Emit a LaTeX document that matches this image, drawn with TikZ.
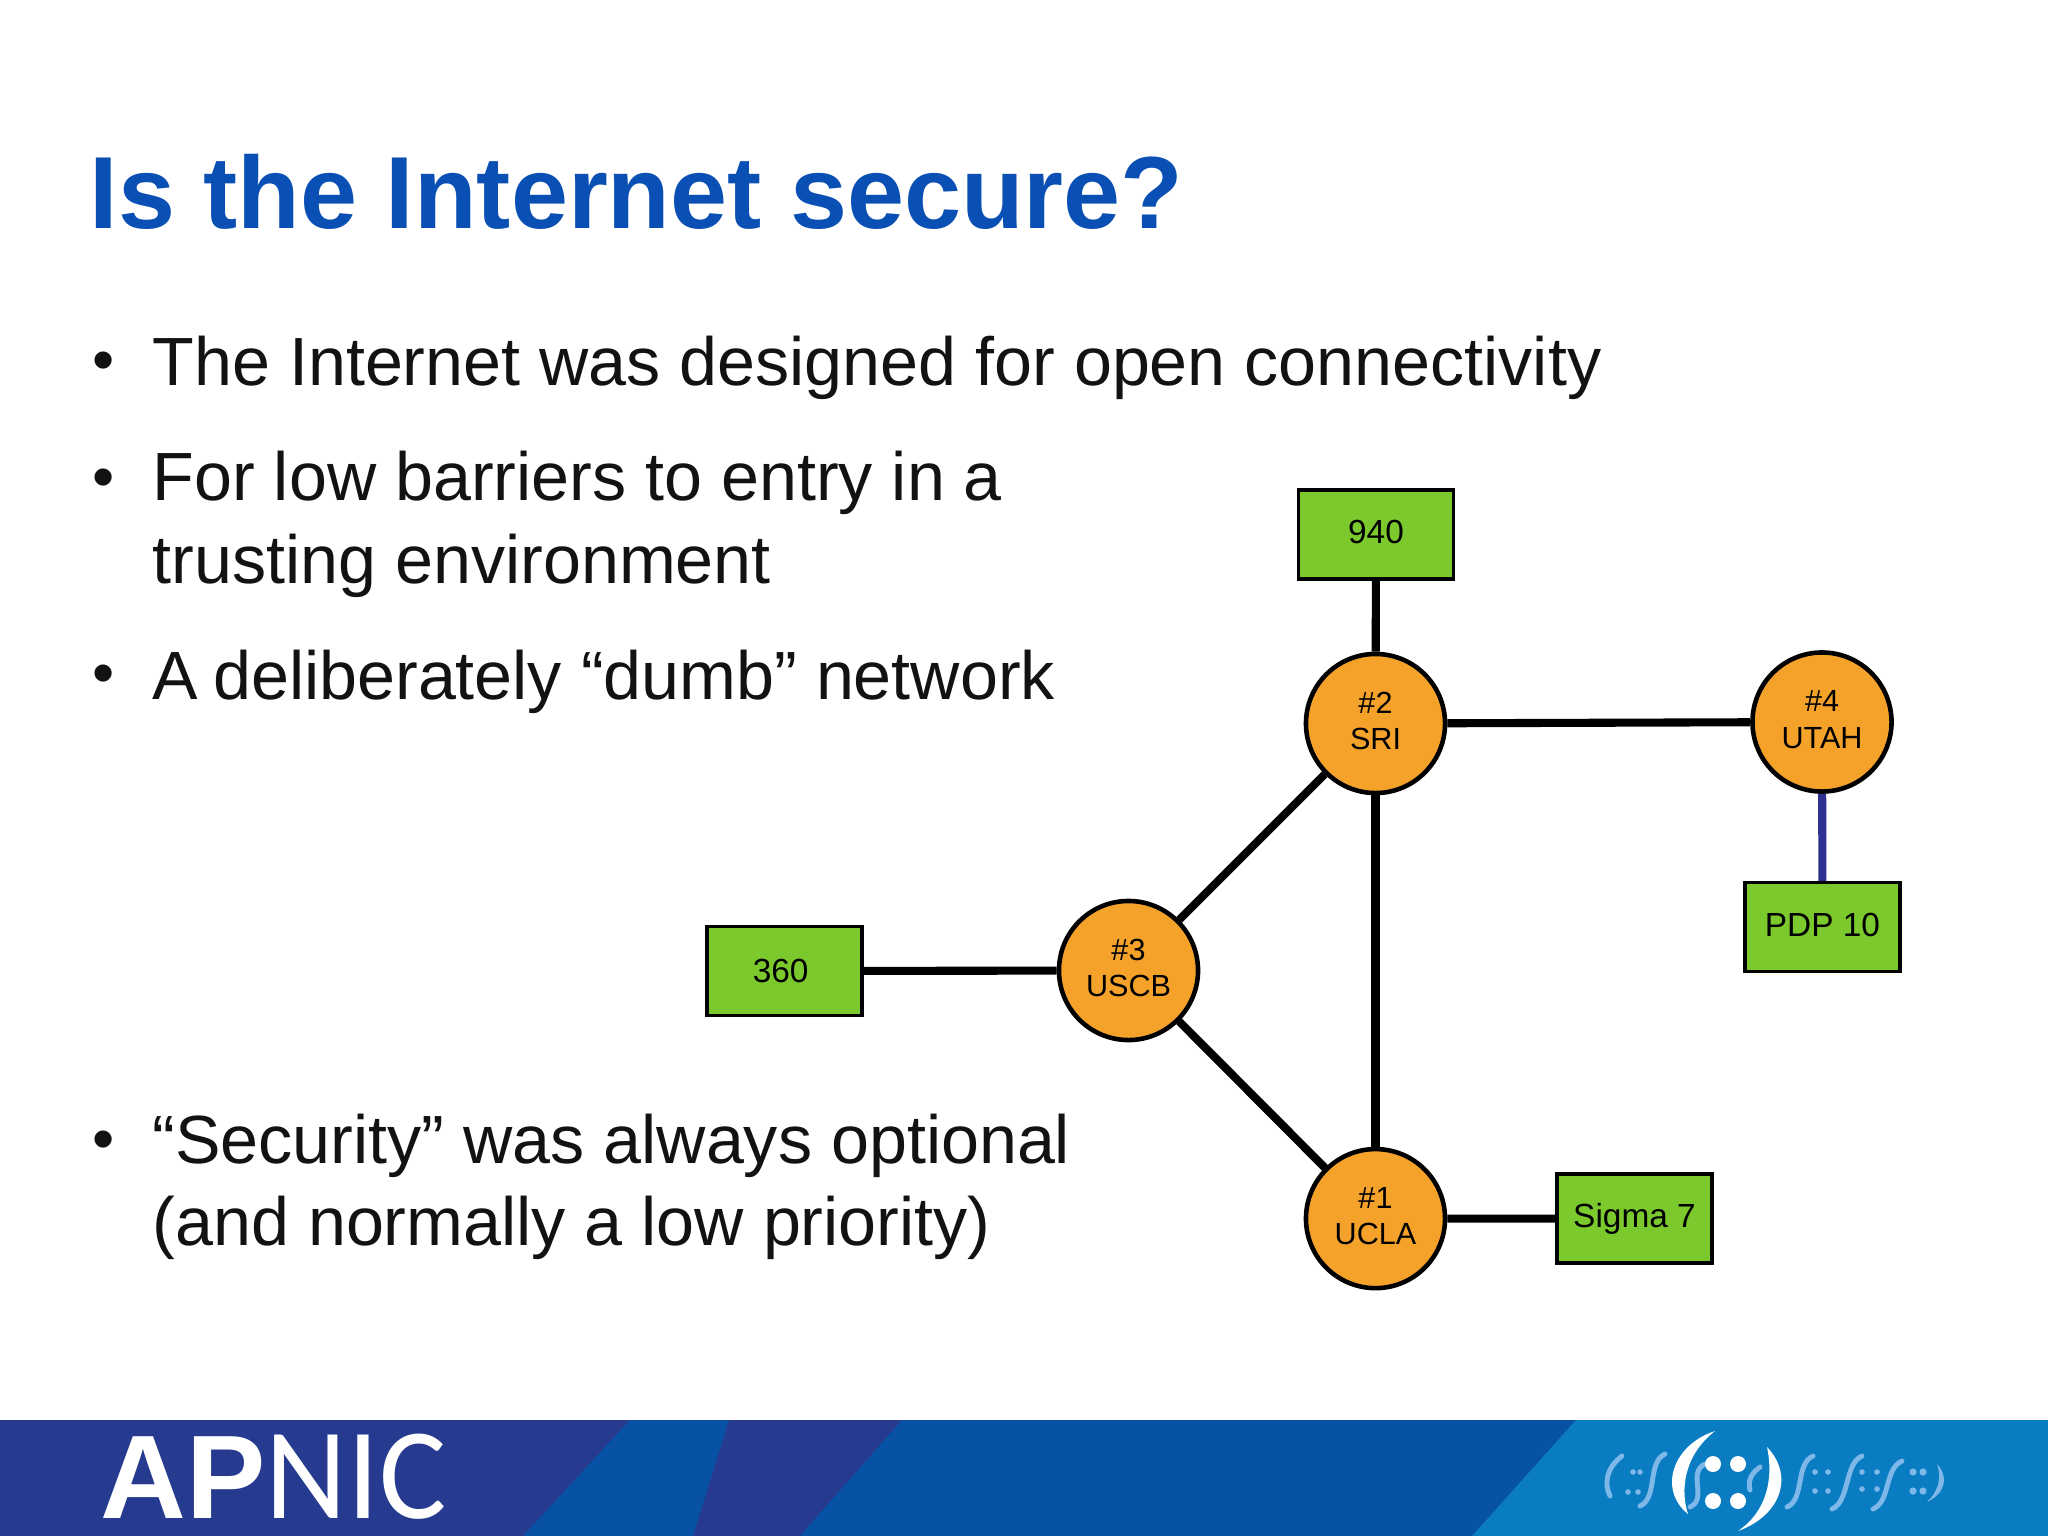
\documentclass[tikz,border=0pt]{standalone}
\usepackage{fontspec}
\setmainfont{Liberation Sans}
\newfontfamily\apnicfont{Carlito}
\definecolor{titleblue}{HTML}{0A50B4}
\definecolor{boxgreen}{HTML}{7BC92C}
\definecolor{hostorange}{HTML}{F5A22B}
\definecolor{linkblue}{HTML}{2E3192}
\definecolor{bardark}{HTML}{263B8F}
\definecolor{barmid}{HTML}{0752A4}
\definecolor{barlight}{HTML}{0A7CC2}
\definecolor{logoblue}{HTML}{7DB8E8}
\tikzset{
 hostnode/.style={circle,draw=black,fill=hostorange,line width=1.3pt,minimum size=1.39cm,inner sep=0pt,align=center,font=\fontsize{8.7}{10.4}\selectfont,execute at end node=\rule[-1.5pt]{0pt}{0pt}},
 machinenode/.style={rectangle,draw=black,fill=boxgreen,line width=1pt,minimum width=1.545cm,minimum height=0.885cm,inner sep=0pt,font=\fontsize{9.5}{10.4}\selectfont},
 machinelift/.style={execute at end node=\rule[-1.5pt]{0pt}{0pt}},
 linkline/.style={line width=2.3pt},
 bodytext/.style={anchor=base west,inner sep=0pt,font=\fontsize{19.4}{24}\selectfont,text=black!93},
 bulletmark/.style={anchor=base,inner sep=0pt,font=\fontsize{18}{24}\selectfont,text=black!93},
 logodot/.style={fill=white},
 logosmall/.style={fill=logoblue},
 logoline/.style={draw=logoblue,line width=1.4pt,line cap=round}
}
\begin{document}
\begin{tikzpicture}[x=0.01cm,y=-0.01cm]
 \useasboundingbox (0,0) rectangle (2048,1536);
 \fill[bardark](0,1420) rectangle (2048,1536);
 \fill[barmid](630,1420)--(729,1420)--(693,1536)--(523,1536)--cycle;
 \fill[barmid](902,1420)--(1576,1420)--(1472,1536)--(800,1536)--cycle;
 \fill[barlight](1576,1420)--(2048,1420)--(2048,1536)--(1472,1536)--cycle;
 \node[anchor=base west,inner sep=0pt,text=white,font=\bfseries\fontsize{33.8}{40}\selectfont] (apnic) at (100,1518) {AP\scalebox{0.97}[1]{\mdseries\apnicfont\fontsize{37}{40}\selectfont NIC}};
 \foreach \xa/\ya/\xb/\yb in {1665/1454/1640/1506,1705/1464/1690/1507,1813/1456/1787/1507,1862/1456/1832/1509,1902/1461/1873/1509}
  \draw[logoline](\xa,\ya) .. controls ({\xa-18},{\ya+8}) and ({\xb+18},{\yb-8}) .. (\xb,\yb);
 \draw[logoline](1622,1456) .. controls (1606,1468) and (1604,1484) .. (1610,1496);
 \draw[logoline](1760,1467) .. controls (1750,1474) and (1748,1482) .. (1750,1490);
 \fill[logosmall](1937,1464) .. controls (1950,1478) and (1944,1494) .. (1927,1502) .. controls (1938,1492) and (1942,1478) .. (1937,1464)--cycle;
 \foreach \xa/\ya in {1633/1472,1640/1472,1628/1492,1638/1492,1815/1472,1828/1472,1815/1491,1828/1491,1862/1472,1877/1472,1862/1489,1877/1489}
  \fill[logosmall](\xa,\ya) circle (2.8);
 \foreach \xa/\ya in {1913/1472,1923/1472,1913/1491,1923/1491}
  \fill[logosmall](\xa,\ya) circle (3.6);
 \fill[logodot](1715,1431) .. controls (1672,1445) and (1658,1490) .. (1688,1514) .. controls (1680,1490) and (1684,1455) .. (1715,1431)--cycle;
 \fill[logodot](1767,1447) .. controls (1794,1475) and (1782,1515) .. (1738,1531) .. controls (1766,1512) and (1774,1480) .. (1767,1447)--cycle;
 \foreach \xa/\ya in {1713/1464,1738/1464,1713/1501,1738/1501}
  \fill[logodot](\xa,\ya) circle (8);
 \node[anchor=base west,inner sep=0pt,text=titleblue,font=\bfseries\fontsize{29.15}{34}\selectfont] (title) at (89,228) {Is the Internet secure?};
 \node[bulletmark] (dot1) at (104,381) {•};
 \node[bodytext] (line1) at (152,385) {The Internet was designed for open connectivity};
 \node[bulletmark] (dot2) at (104,498) {•};
 \node[bodytext] (line2) at (152,500) {For low barriers to entry in a};
 \node[bodytext] (line3) at (152,583) {trusting environment};
 \node[bulletmark] (dot3) at (104,694) {•};
 \node[bodytext] (line4) at (152,699) {A\kern-1.1pt{} deliberately “dumb” network};
 \node[bulletmark] (dot4) at (104,1160) {•};
 \node[bodytext] (line5) at (152,1163) {“Security” was always optional};
 \node[bodytext] (line6) at (152,1245) {(and normally a low priority)};
 \node[machinenode,machinelift] (m940) at (1376,534.5) {940};
 \node[machinenode] (m360) at (784.5,971) {360\kern2.2pt};
 \node[machinenode,machinelift] (mpdp) at (1822.5,927) {PDP 10};
 \node[machinenode] (msigma) at (1634.5,1218.5) {Sigma 7};
 \node[hostnode] (sri) at (1375.5,723.5) {\#2\\SRI};
 \node[hostnode] (utah) at (1822,722) {\#4\\UTAH};
 \node[hostnode] (uscb) at (1128.5,970.5) {\#3\\USCB};
 \node[hostnode] (ucla) at (1375.5,1218.6) {\#1\\UCLA};
 \draw[linkline](m940)--(sri);
 \draw[linkline](sri)--(utah);
 \draw[linkline](sri)--(uscb);
 \draw[linkline](sri)--(ucla);
 \draw[linkline](uscb)--(ucla);
 \draw[linkline](m360)--(uscb);
 \draw[linkline](ucla)--(msigma);
 \draw[linkline,linkblue](utah)--(mpdp);
\end{tikzpicture}
\end{document}
